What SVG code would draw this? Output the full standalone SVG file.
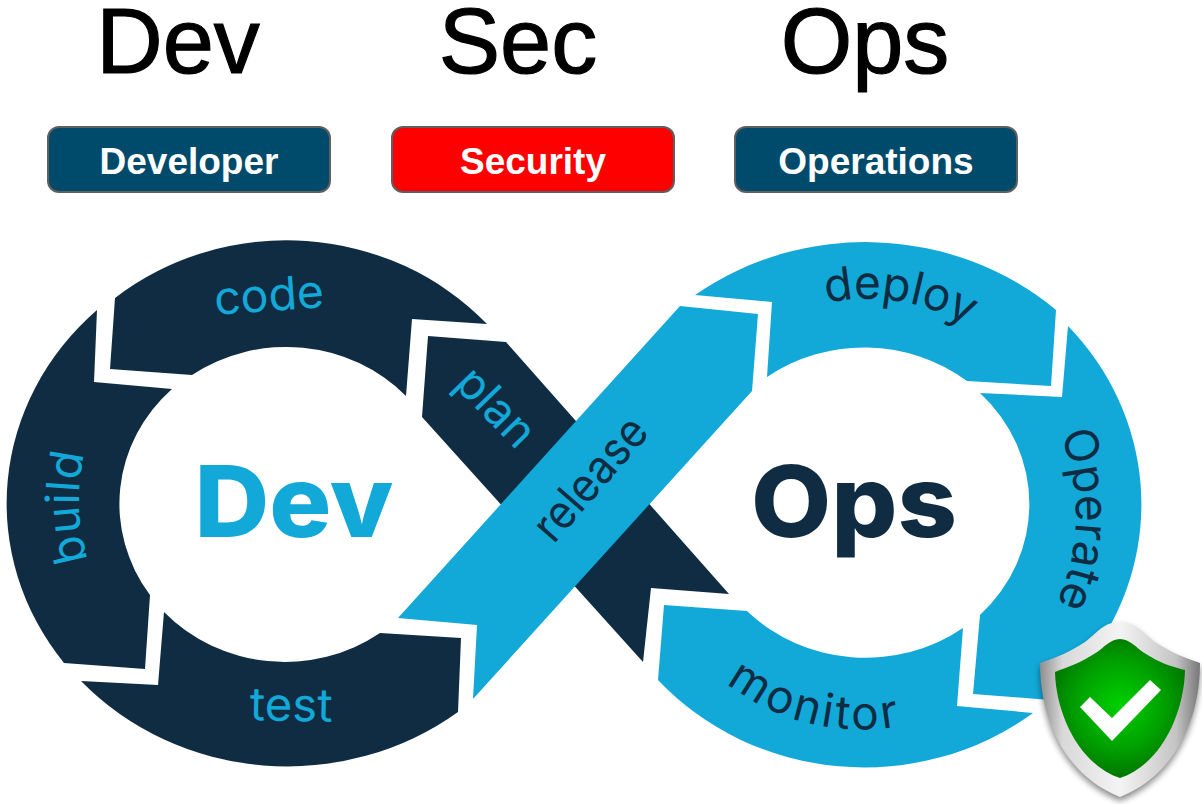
<svg xmlns="http://www.w3.org/2000/svg" width="1202" height="804" viewBox="0 0 1202 804">
<style>
.dark{fill:#102c42}
.light{fill:#12a8d8}
.title{font:400 92px "Liberation Sans",Arial,sans-serif;fill:#000;stroke:#000;stroke-width:1.2;text-anchor:middle}
.btn{stroke:#5f5f5f;stroke-width:2}
.btxt{font:700 37px "Liberation Sans",Arial,sans-serif;fill:#fff;text-anchor:middle}
.lab{font-family:Inter,"Open Sans",sans-serif;font-weight:400;font-size:46px}
.ld{fill:#12a8d8}
.ll{fill:#102c42}
.big{font-family:Inter,"Open Sans",sans-serif;font-weight:800;font-size:99px}
</style>
<defs>
<path id="pBuild" d="M88,560 A205 205 0 0 1 88,440"/>
<path id="pDeploy" d="M826,303 A205 205 0 0 1 990,340"/>
<path id="pOperate" d="M1060,434 A212 212 0 0 1 1048,620"/>
<path id="pMonitor" d="M726,683 A220 220 0 0 0 910,724"/>
<linearGradient id="rim" x1="0" x2="1" y1="0" y2="0">
<stop offset="0" stop-color="#8e8e8e"/><stop offset=".14" stop-color="#d8d8d8"/><stop offset=".5" stop-color="#f4f4f4"/><stop offset=".85" stop-color="#c4c4c4"/><stop offset="1" stop-color="#777"/>
</linearGradient>
<radialGradient id="grn" gradientUnits="userSpaceOnUse" cx="1120" cy="705" r="80">
<stop offset="0" stop-color="#00d000"/><stop offset=".55" stop-color="#00a000"/><stop offset="1" stop-color="#006c00"/>
</radialGradient>
<filter id="soft" x="-20%" y="-20%" width="140%" height="140%"><feGaussianBlur stdDeviation="3"/></filter>
</defs>
<rect width="1202" height="804" fill="#fff"/>

<g id="title-dev"><text class="title" x="178" y="73">Dev</text></g>
<g id="title-sec"><text class="title" x="518" y="73">Sec</text></g>
<g id="title-ops"><text class="title" x="865" y="73">Ops</text></g>

<g id="btn-developer"><rect class="btn" x="48" y="127" width="282" height="65" rx="11" fill="#004b6b"/><text class="btxt" x="189" y="174">Developer</text></g>
<g id="btn-security"><rect class="btn" x="392" y="127" width="282" height="65" rx="11" fill="#ff0000"/><text class="btxt" x="533" y="174">Security</text></g>
<g id="btn-operations"><rect class="btn" x="735" y="127" width="282" height="65" rx="11" fill="#004b6b"/><text class="btxt" x="876" y="174">Operations</text></g>

<g id="code"><path class="dark" d="M115,298 A272 258 0 0 1 487,324 L412,319 L406,396 A165 157 0 0 0 192,375 L110,369 Z"/>
<text class="lab ld" transform="translate(270,311) rotate(-4)" text-anchor="middle" textLength="110" lengthAdjust="spacingAndGlyphs">code</text></g>
<g id="build"><path class="dark" d="M97,310 A280 263 0 0 0 64,663 L145,669 L150,595 A165 157 0 0 1 172,389 L94,382 Z"/>
<text class="lab ld" letter-spacing=".5"><textPath href="#pBuild">build</textPath></text></g>
<g id="test"><path class="dark" d="M81,681 A280 263 0 0 0 458,712 L461,638 L380,633 A165 157 0 0 1 164,612 L158,685 Z"/>
<text class="lab ld" transform="translate(291,721) rotate(1)" text-anchor="middle" textLength="83" lengthAdjust="spacingAndGlyphs">test</text></g>
<g id="plan"><path class="dark" d="M428,336 L506,342 L729,594 L651,588 L643,662 L422,417 Z"/>
<text class="lab ld" transform="translate(485,418) rotate(46)" text-anchor="middle" textLength="92" lengthAdjust="spacingAndGlyphs">plan</text></g>
<g id="release"><path class="light" d="M680,306 L758,314 L752,391 L473,699 L477,625 L398,618 Z"/>
<text class="lab ll" transform="translate(602,489) rotate(-49)" text-anchor="middle" textLength="148" lengthAdjust="spacingAndGlyphs">release</text></g>
<g id="deploy"><path class="light" d="M695,295 A288 272 0 0 1 1056,310 L1051,386 L967,381 A166 156 0 0 0 767,377 L772,302 Z"/>
<text class="lab ll"><textPath href="#pDeploy">deploy</textPath></text></g>
<g id="operate"><path class="light" d="M1068,326 A277 263 0 0 1 1095,650 L1075,702 L973,694 L980,615 A166 156 0 0 0 980,393 L1062,397 Z"/>
<text class="lab ll"><textPath href="#pOperate">Operate</textPath></text></g>
<g id="monitor"><path class="light" d="M664,605 L747,611 A166 156 0 0 0 963,628 L957,706 L1033,713 A277 263 0 0 1 658,680 Z"/>
<text class="lab ll" letter-spacing="3"><textPath href="#pMonitor">monitor</textPath></text></g>

<g id="center-dev"><text class="big" x="294" y="537" text-anchor="middle" textLength="199" lengthAdjust="spacingAndGlyphs" fill="#12a8d8">Dev</text></g>
<g id="center-ops"><text class="big" x="854" y="537" text-anchor="middle" textLength="206" lengthAdjust="spacingAndGlyphs" fill="#102c42">Ops</text></g>

<g id="shield">
<path d="M1120,626 C1136,626 1142,636 1155,646 C1170,656 1185,662 1200,667 C1200,724 1175,779 1120,801 C1065,779 1040,724 1040,667 C1055,662 1070,656 1085,646 C1098,636 1104,626 1120,626 Z" fill="#000" opacity=".45" filter="url(#soft)"/>
<path d="M1120,622 C1136,622 1142,632 1155,642 C1170,652 1185,658 1200,663 C1200,720 1175,775 1120,797 C1065,775 1040,720 1040,663 C1055,658 1070,652 1085,642 C1098,632 1104,622 1120,622 Z" fill="url(#rim)"/>
<path d="M1120,639 C1130,639 1136,648 1146,654 C1158,662 1172,667 1185,670 C1184,715 1160,765 1120,778 C1080,765 1056,715 1055,672 C1068,667 1082,662 1094,654 C1104,648 1110,639 1120,639 Z" fill="url(#grn)"/>
<path d="M1080,707 L1090,697 L1112,718 L1150,680 L1161,690 L1112,741 Z" fill="#fff"/>
</g>
</svg>
